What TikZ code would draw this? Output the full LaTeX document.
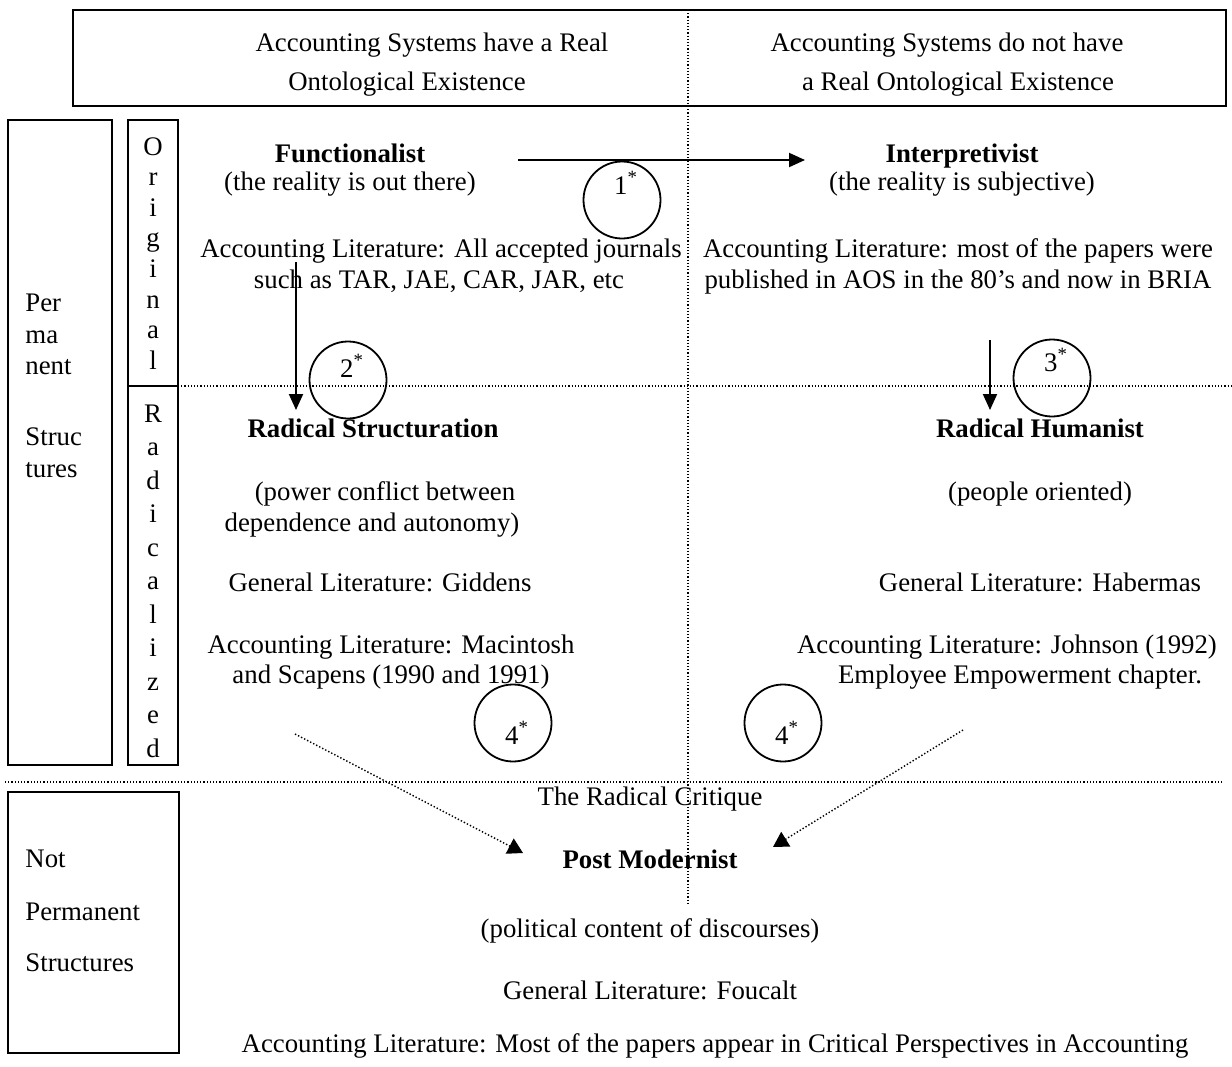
\documentclass[tikz,border=0pt]{standalone}
\usepackage{fontspec}
\setmainfont{Liberation Serif}
\usetikzlibrary{arrows.meta}

\tikzset{
  txt/.style={font=\fontsize{13.4}{16}\selectfont, inner sep=0pt, anchor=base},
  ttl/.style={txt, font=\fontsize{13.4}{16}\selectfont\bfseries},
  sidetxt/.style={txt, anchor=base west},
  boxline/.style={draw, line width=1pt},
  divider/.style={line width=0.6pt, densely dotted},
  ring/.style={circle, draw, line width=0.9pt, minimum size=38.5pt, inner sep=0pt},
  solidarrow/.style={line width=1pt, -{Triangle[length=8pt, width=7pt]}},
  dotarrow/.style={line width=0.7pt, densely dotted, -{Triangle[length=7.5pt, width=8.5pt]}}
}

\begin{document}
\begin{tikzpicture}[x=0.5pt, y=-0.5pt]
    \useasboundingbox (0,0) rectangle (1232,1066);

    % ==========================================
    % HEADER
    % ==========================================
    \draw[boxline] (73,10) rectangle (1226,106);
    \node[txt] (headL1) at (432,51) {Accounting Systems have a Real};
    \node[txt] (headL2) at (407,90) {Ontological Existence};
    \node[txt] (headR1) at (947,51) {Accounting Systems do not have};
    \node[txt] (headR2) at (958,90) {a Real Ontological Existence};

    % Dotted division lines
    \draw[divider] (688,10) -- (688,903);
    \draw[divider] (178,386) -- (1232,386);
    \draw[divider] (5,782) -- (1222,782);

    % ==========================================
    % LEFT SIDE BOXES
    % ==========================================
    \draw[boxline] (8,120) rectangle (112,765);
    \draw[boxline] (128,120) rectangle (178,765);
    \draw[boxline] (128,386) -- (178,386);
    \draw[boxline] (8,792) rectangle (179,1053);

    \node[sidetxt] (perm1) at (25,311) {Per};
    \node[sidetxt] (perm2) at (25,343) {ma};
    \node[sidetxt] (perm3) at (25,374) {nent};
    \node[sidetxt] (perm4) at (25,445) {Struc};
    \node[sidetxt] (perm5) at (25,477) {tures};

    \node[sidetxt] (notp1) at (25,867) {Not};
    \node[sidetxt] (notp2) at (25,920) {Permanent};
    \node[sidetxt] (notp3) at (25,971) {Structures};

    % Vertical letters
    \foreach \ch [count=\i from 0] in {O,r,i,g,i,n,a,l}
        \node[txt] (orig\i) at (153,{155+30.6*\i}) {\ch};
    \foreach \ch [count=\i from 0] in {R,a,d,i,c,a,l,i,z,e,d}
        \node[txt] (radi\i) at (153,{422+33.5*\i}) {\ch};

    % ==========================================
    % UPPER QUADRANTS
    % ==========================================
    \node[ttl] (func) at (350,162) {Functionalist};
    \node[txt] (funcsub) at (350,190) {(the reality is out there)};
    \node[txt] (funclit1) at (441,257) {Accounting Literature: All accepted journals};
    \node[txt] (funclit2) at (439,288) {such as TAR, JAE, CAR, JAR, etc};

    \node[ttl] (interp) at (962,162) {Interpretivist};
    \node[txt] (interpsub) at (962,190) {(the reality is subjective)};
    \node[txt] (interplit1) at (958,257) {Accounting Literature: most of the papers were};
    \node[txt] (interplit2) at (958,288) {published in AOS in the 80’s and now in BRIA};

    % ==========================================
    % RADICAL QUADRANTS
    % ==========================================
    \node[ttl] (radstr) at (373,437) {Radical Structuration};
    \node[txt] (radstr1) at (385,500) {(power conflict between};
    \node[txt] (radstr2) at (372,531) {dependence and autonomy)};
    \node[txt] (radstr3) at (380,591) {General Literature: Giddens};
    \node[txt] (radstr4) at (391,653) {Accounting Literature: Macintosh};
    \node[txt] (radstr5) at (391,683) {and Scapens (1990 and 1991)};

    \node[ttl] (radhum) at (1040,437) {Radical Humanist};
    \node[txt] (radhum1) at (1040,500) {(people oriented)};
    \node[txt] (radhum2) at (1040,591) {General Literature: Habermas};
    \node[txt] (radhum3) at (1007,653) {Accounting Literature: Johnson (1992)};
    \node[txt] (radhum4) at (1020,683) {Employee Empowerment chapter.};

    % ==========================================
    % POST MODERNIST
    % ==========================================
    \node[txt] (critique) at (650,805) {The Radical Critique};
    \node[ttl] (postmod) at (650,868) {Post Modernist};
    \node[txt] (postmod1) at (650,937) {(political content of discourses)};
    \node[txt] (postmod2) at (650,999) {General Literature: Foucalt};
    \node[txt] (postmod3) at (715,1052) {Accounting Literature: Most of the papers appear in Critical Perspectives in Accounting};

    % ==========================================
    % CIRCLED NUMBERS
    % ==========================================
    \node[ring] (c1) at (622,200) {};
    \node[ring] (c2) at (348,380) {};
    \node[ring] (c3) at (1052,378) {};
    \node[ring] (c4L) at (513,723) {};
    \node[ring] (c4R) at (783,723) {};
    \node[txt] (n1) at (626,194) {1\textsuperscript{*}};
    \node[txt] (n2) at (352,377) {2\textsuperscript{*}};
    \node[txt] (n3) at (1056,371) {3\textsuperscript{*}};
    \node[txt] (n4L) at (517,744) {4\textsuperscript{*}};
    \node[txt] (n4R) at (787,744) {4\textsuperscript{*}};

    % ==========================================
    % ARROWS
    % ==========================================
    \coordinate (a1s) at (518,160);
    \coordinate (a1e) at (805,160);
    \coordinate (a2s) at (296,262);
    \coordinate (a2e) at (296,410);
    \coordinate (a3s) at (990,340);
    \coordinate (a3e) at (990,410);
    \coordinate (dLs) at (295,734);
    \coordinate (dLe) at (523,853);
    \coordinate (dRs) at (963,730);
    \coordinate (dRe) at (773,847);

    \draw[solidarrow] (a1s) -- (a1e);
    \draw[solidarrow] (a2s) -- (a2e);
    \draw[solidarrow] (a3s) -- (a3e);
    \draw[dotarrow] (dLs) -- (dLe);
    \draw[dotarrow] (dRs) -- (dRe);
\end{tikzpicture}
\end{document}
